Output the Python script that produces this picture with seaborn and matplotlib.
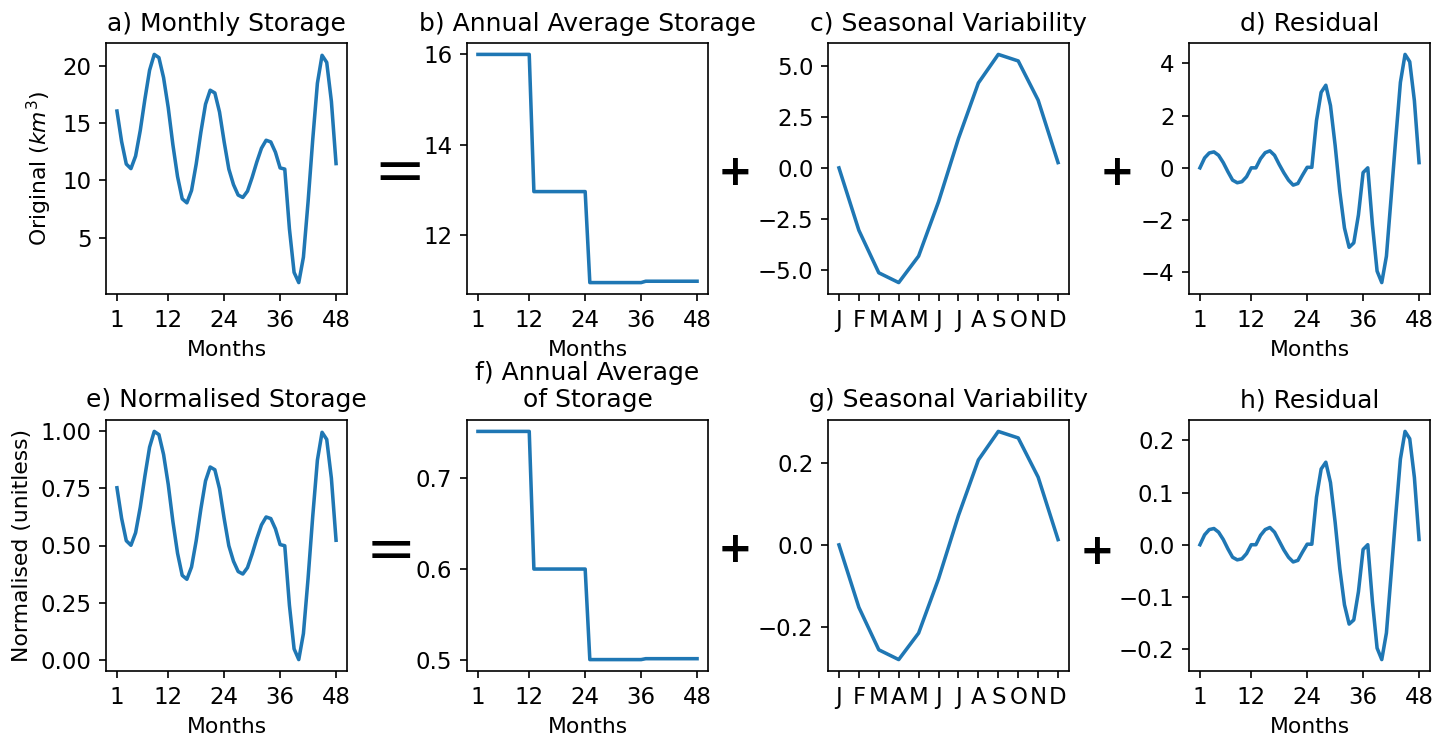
import numpy as np
import pandas as pd
import matplotlib
matplotlib.use("Agg")
import matplotlib.pyplot as plt
import seaborn as sns

# ---------------- data ----------------
months = list(range(1, 49))
month_letters = ["J", "F", "M", "A", "M", "J", "J", "A", "S", "O", "N", "D"]

storage_km3 = [16.05, 13.38, 11.42, 11.02, 12.12, 14.35, 17.10, 19.62, 21.00, 20.72, 18.97, 16.35,
               13.10, 10.32, 8.38, 8.03, 9.11, 11.42, 14.20, 16.65, 17.87, 17.63, 15.97, 13.35,
               10.98, 9.62, 8.71, 8.50, 9.05, 10.25, 11.60, 12.80, 13.50, 13.35, 12.45, 11.08,
               10.98, 5.75, 1.95, 1.06, 3.28, 8.12, 13.56, 18.48, 20.92, 20.30, 16.90, 11.46]

annual_mean_km3 = [15.99, 12.96, 10.95, 10.98]

seasonal_km3 = [0.0, -3.06, -5.14, -5.62, -4.32, -1.66, 1.44, 4.16, 5.56, 5.24, 3.32, 0.26]

residual_km3 = [0.0, 0.38, 0.57, 0.61, 0.48, 0.20, -0.15, -0.47, -0.57, -0.53, -0.34, 0.0,
                0.0, 0.35, 0.58, 0.65, 0.48, 0.13, -0.19, -0.47, -0.66, -0.60, -0.28, 0.02,
                0.02, 1.81, 2.89, 3.16, 2.38, 0.86, -0.91, -2.30, -3.04, -2.87, -1.80, -0.18,
                0.0, -2.18, -3.95, -4.39, -3.38, -1.16, 1.11, 3.27, 4.34, 4.06, 2.57, 0.20]

storage_norm = [0.753, 0.619, 0.521, 0.501, 0.556, 0.668, 0.805, 0.931, 1.000, 0.986, 0.899, 0.768,
                0.605, 0.466, 0.369, 0.352, 0.406, 0.521, 0.660, 0.783, 0.844, 0.832, 0.749, 0.618,
                0.499, 0.431, 0.386, 0.375, 0.403, 0.463, 0.530, 0.590, 0.625, 0.618, 0.573, 0.504,
                0.499, 0.238, 0.047, 0.000, 0.114, 0.356, 0.628, 0.874, 0.996, 0.965, 0.795, 0.523]

annual_mean_norm = [0.752, 0.600, 0.500, 0.501]

seasonal_norm = [0.0, -0.153, -0.257, -0.281, -0.216, -0.083, 0.072, 0.208, 0.278, 0.262, 0.166, 0.013]

residual_norm = [0.0, 0.019, 0.029, 0.031, 0.024, 0.010, -0.008, -0.024, -0.029, -0.027, -0.017, 0.0,
                 0.0, 0.018, 0.029, 0.033, 0.024, 0.007, -0.010, -0.024, -0.033, -0.030, -0.014, 0.001,
                 0.001, 0.091, 0.145, 0.158, 0.119, 0.043, -0.046, -0.115, -0.152, -0.144, -0.090, -0.009,
                 0.0, -0.109, -0.198, -0.220, -0.169, -0.058, 0.056, 0.164, 0.217, 0.203, 0.129, 0.010]

titles = ["a) Monthly Storage", "b) Annual Average Storage", "c) Seasonal Variability", "d) Residual",
          "e) Normalised Storage", "f) Annual Average\nof Storage", "g) Seasonal Variability", "h) Residual"]
month_ticks = [1, 12, 24, 36, 48]

# ---------------- figure ----------------
W, H, DPI = 1433, 736, 150
fig = plt.figure(figsize=(W / DPI, H / DPI), dpi=DPI)
plt.rcParams["xtick.labelsize"] = 11
plt.rcParams["ytick.labelsize"] = 11
LINE = "#1f77b4"
LW = 1.7
LABEL_FS = 10.5

col_left = [106, 467, 828, 1189]
ax_w = 241
row_top = [43, 420]
ax_h = 251

def make_ax(r, c):
    left = col_left[c] / W
    bottom = (H - row_top[r] - ax_h) / H
    return fig.add_axes([left, bottom, ax_w / W, ax_h / H])

rows = [
    (storage_km3, annual_mean_km3, seasonal_km3, residual_km3, "Original ($km^3$)"),
    (storage_norm, annual_mean_norm, seasonal_norm, residual_norm, "Normalised (unitless)"),
]

for r, (orig, ann, seas, resid, ylab) in enumerate(rows):
    trend = np.repeat(ann, 12)
    # panel 1: monthly
    ax = make_ax(r, 0)
    sns.lineplot(x=months, y=orig, ax=ax, color=LINE, linewidth=LW)
    ax.set_xticks(month_ticks)
    ax.set_xlabel("Months", fontsize=LABEL_FS)
    ax.set_ylabel(ylab, fontsize=LABEL_FS)
    ax.set_title(titles[r * 4 + 0], fontsize=12)
    # panel 2: annual average
    ax = make_ax(r, 1)
    sns.lineplot(x=months, y=trend, ax=ax, color=LINE, linewidth=LW)
    ax.set_xticks(month_ticks)
    ax.set_xlabel("Months", fontsize=LABEL_FS)
    ax.set_title(titles[r * 4 + 1], fontsize=12)
    # panel 3: seasonal
    ax = make_ax(r, 2)
    pos = list(range(12))
    sns.lineplot(x=pos, y=seas, ax=ax, color=LINE, linewidth=LW)
    ax.set_xticks(pos)
    ax.set_xticklabels(month_letters)
    ax.set_title(titles[r * 4 + 2], fontsize=12)
    # panel 4: residual
    ax = make_ax(r, 3)
    sns.lineplot(x=months, y=resid, ax=ax, color=LINE, linewidth=LW)
    ax.set_xticks(month_ticks)
    ax.set_xlabel("Months", fontsize=LABEL_FS)
    ax.set_title(titles[r * 4 + 3], fontsize=12)

for a in fig.axes:
    a.tick_params(labelsize=11)

# operators between panels
fig.text(400 / W, 1 - 174 / H, "=", fontsize=30, ha="center", va="center")
fig.text(391 / W, 1 - 551 / H, "=", fontsize=29, ha="center", va="center")
for (x, y) in [(735, 173), (1117, 173), (735, 550), (1097, 552)]:
    fig.text(x / W, 1 - y / H, "+", fontsize=20, fontweight="bold", ha="center", va="center")

fig.savefig("out.png", dpi=DPI)
